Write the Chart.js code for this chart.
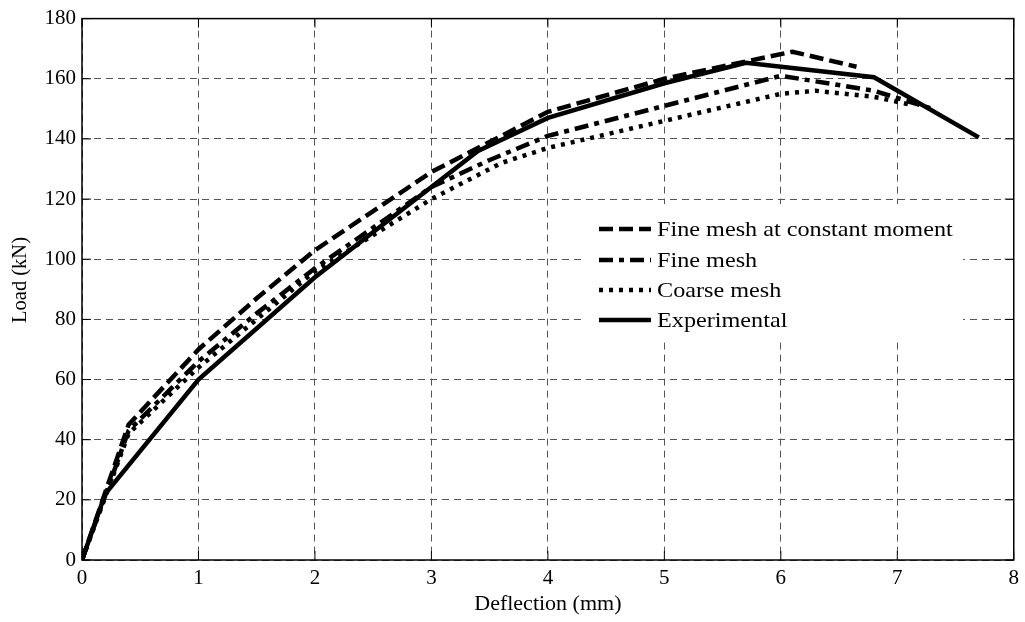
<!DOCTYPE html>
<html>
<head>
<meta charset="utf-8">
<script src="https://cdn.jsdelivr.net/npm/chart.js@4.4.1/dist/chart.umd.min.js"></script>
<style>
  html, body { margin: 0; padding: 0; background: #ffffff; }
  #wrap { width: 1025px; height: 622px; }
</style>
</head>
<body>
<div id="wrap"><canvas id="c" width="1025" height="622"></canvas></div>
<script>
// Load–deflection curves: FE models vs. test
const xTickValues = [0, 1, 2, 3, 4, 5, 6, 7, 8];
const yTickValues = [0, 20, 40, 60, 80, 100, 120, 140, 160, 180];

const seriesNames = ['Fine mesh at constant moment', 'Fine mesh', 'Coarse mesh', 'Experimental'];
const xTitle = 'Deflection (mm)';
const yTitle = 'Load (kN)';

const fineConstDefl = [0, 0.4, 1, 1.5, 2, 2.5, 3, 4, 5, 6.1, 6.65];
const fineConstLoad = [0, 45, 70, 87, 103, 116, 129, 149, 160, 169, 164];

const fineDefl = [0, 0.4, 1, 1.5, 2, 3, 3.5, 4, 5, 6, 6.8, 7.3];
const fineLoad = [0, 43, 66, 82, 97, 124, 133, 141, 151, 161, 156, 150];

const coarseDefl = [0, 0.4, 1, 2, 3, 3.6, 4, 5, 6, 6.3, 6.8, 7.1];
const coarseLoad = [0, 42, 64, 96, 120, 132, 137, 146, 155, 156, 154, 151.5];

const expDefl = [0, 0.2, 1, 2, 3, 3.4, 4, 5, 5.7, 6.8, 7.7];
const expLoad = [0, 22, 60, 94, 124, 136, 147, 158.5, 165.3, 160.5, 140.5];

const FONT = '"Liberation Serif", "Times New Roman", serif';

function pts(xs, ys) { return xs.map((x, i) => ({ x: x, y: ys[i] })); }

const dashes = [[14, 6], [14, 6, 5, 6], [4, 6], []];
const curves = [
  pts(fineConstDefl, fineConstLoad),
  pts(fineDefl, fineLoad),
  pts(coarseDefl, coarseLoad),
  pts(expDefl, expLoad)
];

const datasets = curves.map((d, i) => ({
  label: seriesNames[i],
  data: d,
  borderColor: '#000000',
  backgroundColor: '#000000',
  borderWidth: 4.5,
  borderDash: dashes[i],
  borderCapStyle: 'butt',
  borderJoinStyle: 'miter',
  pointRadius: 0,
  tension: 0,
  fill: false
}));

// Frame around the plot area plus inward tick marks on all four sides
const framePlugin = {
  id: 'frame',
  afterDatasetsDraw(chart) {
    const { ctx, chartArea: a, scales } = chart;
    ctx.save();
    ctx.strokeStyle = '#000';
    ctx.lineWidth = 1.5;
    ctx.setLineDash([]);
    ctx.strokeRect(a.left, a.top, a.right - a.left, a.bottom - a.top);
    ctx.lineWidth = 1;
    const tl = 9;
    xTickValues.forEach(v => {
      const px = scales.x.getPixelForValue(v);
      ctx.beginPath();
      ctx.moveTo(px, a.bottom); ctx.lineTo(px, a.bottom - tl);
      ctx.moveTo(px, a.top); ctx.lineTo(px, a.top + tl);
      ctx.stroke();
    });
    yTickValues.forEach(v => {
      const py = scales.y.getPixelForValue(v);
      ctx.beginPath();
      ctx.moveTo(a.left, py); ctx.lineTo(a.left + tl, py);
      ctx.moveTo(a.right, py); ctx.lineTo(a.right - tl, py);
      ctx.stroke();
    });
    ctx.restore();
  }
};

// Vertical axis title, set slightly above the axis centre
const yTitlePlugin = {
  id: 'yTitle',
  afterDraw(chart) {
    const { ctx } = chart;
    ctx.save();
    ctx.translate(21, 280);
    ctx.rotate(-Math.PI / 2);
    ctx.fillStyle = '#000';
    ctx.font = '20.5px ' + FONT;
    ctx.textAlign = 'center';
    ctx.textBaseline = 'middle';
    ctx.fillText(yTitle, 0, 0);
    ctx.restore();
  }
};

// Legend box drawn inside the plot area
const legendPlugin = {
  id: 'innerLegend',
  afterDraw(chart) {
    const { ctx } = chart;
    const boxL = 583, boxT = 204, boxR = 963, boxB = 339;
    ctx.save();
    ctx.fillStyle = '#ffffff';
    ctx.fillRect(boxL, boxT, boxR - boxL, boxB - boxT);
    const rows = [229, 260, 290, 320];
    chart.data.datasets.forEach((ds, i) => {
      const y = rows[i];
      ctx.strokeStyle = '#000';
      ctx.lineWidth = ds.borderWidth;
      ctx.lineCap = 'butt';
      ctx.setLineDash(ds.borderDash);
      ctx.beginPath();
      ctx.moveTo(599, y); ctx.lineTo(651, y);
      ctx.stroke();
      ctx.setLineDash([]);
      ctx.save();
      ctx.translate(657, y + 1);
      ctx.scale(1.1, 1);
      ctx.fillStyle = '#000';
      ctx.font = '22px ' + FONT;
      ctx.textAlign = 'left';
      ctx.textBaseline = 'middle';
      ctx.fillText(ds.label, 0, 0);
      ctx.restore();
    });
    ctx.restore();
  }
};

new Chart(document.getElementById('c'), {
  type: 'line',
  data: { datasets: datasets },
  plugins: [framePlugin, yTitlePlugin, legendPlugin],
  options: {
    responsive: false,
    animation: false,
    devicePixelRatio: 1,
    layout: { padding: { top: 17, right: 11, left: 0, bottom: 0 } },
    plugins: { legend: { display: false }, tooltip: { enabled: false } },
    scales: {
      x: {
        type: 'linear',
        min: 0, max: 8,
        afterBuildTicks(s) { s.ticks = xTickValues.map(v => ({ value: v })); },
        afterFit(s) { s.height = 62; },
        ticks: { color: '#000', font: { family: FONT, size: 21 }, padding: 6, maxRotation: 0 },
        grid: { color: '#555555', lineWidth: 1, drawTicks: false, borderDash: [7, 5] },
        border: { display: false, dash: [7, 5] },
        title: { display: true, text: xTitle, color: '#000',
                 font: { family: FONT, size: 22 }, padding: { top: 0, bottom: 5 } }
      },
      y: {
        type: 'linear',
        min: 0, max: 180,
        afterBuildTicks(s) { s.ticks = yTickValues.map(v => ({ value: v })); },
        afterFit(s) { s.width = 82; },
        ticks: { color: '#000', font: { family: FONT, size: 21 }, padding: 6 },
        grid: { color: '#555555', lineWidth: 1, drawTicks: false, borderDash: [7, 5] },
        border: { display: false, dash: [7, 5] },
        title: { display: false }
      }
    }
  }
});
</script>
</body>
</html>
